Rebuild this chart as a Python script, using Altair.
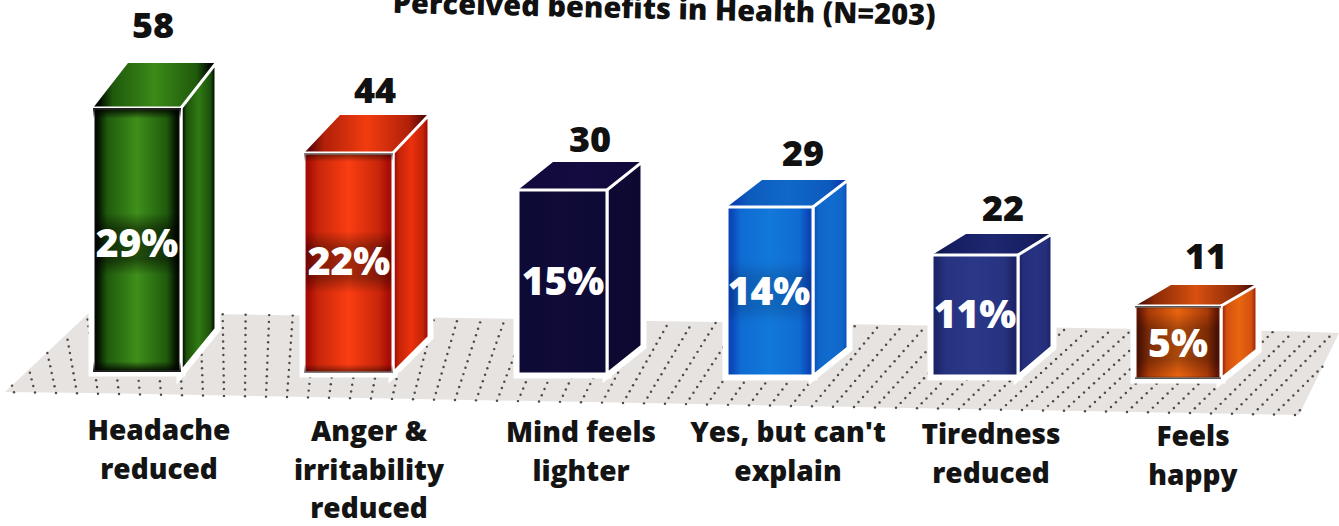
import altair as alt
import numpy as np
import pandas as pd

# Survey results
TITLE = "Perceived benefits in Health (N=203)"
CATEGORIES = ["Headache reduced", "Anger & irritability reduced", "Mind feels lighter",
              "Yes, but can't explain", "Tiredness reduced", "Feels happy"]
CATEGORY_LINES = [["Headache", "reduced"], ["Anger &", "irritability", "reduced"],
                  ["Mind feels", "lighter"], ["Yes, but can't", "explain"],
                  ["Tiredness", "reduced"], ["Feels", "happy"]]
COUNTS = [58, 44, 30, 29, 22, 11]
PERCENTS = [29, 22, 15, 14, 11, 5]

# Scales: the column height is pictorial, so the count axis is piecewise
COUNT_DOMAIN = [-35, 0, 11, 22, 29, 30, 44, 58, 82]
COUNT_RANGE = [526, 372.5, 306, 255, 207, 190, 153, 108, 0]
SLOT_DOMAIN = [-1, 0, 1, 2, 3, 4, 5, 6]
SLOT_RANGE = [-118, 93, 304, 518, 727, 932, 1135, 1339]
X_SCALE = alt.Scale(domain=SLOT_DOMAIN, range=SLOT_RANGE, nice=False, zero=False)
Y_SCALE = alt.Scale(domain=COUNT_DOMAIN, range=COUNT_RANGE, nice=False, zero=False)


def sx(px):
    return float(np.interp(px, SLOT_RANGE, SLOT_DOMAIN))


def cy(py):
    return float(np.interp(py, COUNT_RANGE[::-1], COUNT_DOMAIN[::-1]))


def top_of(count):
    return float(np.interp(count, COUNT_DOMAIN, COUNT_RANGE))


# Layout of the pseudo-3D columns
FACE_WIDTH = [88, 89, 89, 86, 86, 86]
BASE_LINE = [372, 373, 374, 376, 376, 379]
DEPTH_X = [35, 36, 35, 35, 34, 36]
DEPTH_TOP = [45, 38, 28, 27, 21, 21]
DEPTH_BASE = [43, 36, 28, 28, 29, 29]
COUNT_LABEL = [(153, 27), (375, 92), (590, 141), (803, 155), (1003, 210), (1206, 258)]
PERCENT_LABEL = [(137, 245), (349, 263), (563, 283), (769, 293), (975, 316), (1178, 345)]
CATEGORY_X = [159, 369, 581, 788, 991, 1193]
CATEGORY_Y = [432, 433, 434, 434, 436, 438]
LINE_STEP = 38.5


def h_gradient(edge, mid, rim=None):
    rim = rim or edge
    return alt.LinearGradient(gradient="linear", x1=0, x2=1, y1=0, y2=0, stops=[
        alt.GradientStop(offset=0, color=rim), alt.GradientStop(offset=0.05, color=rim),
        alt.GradientStop(offset=0.16, color=edge), alt.GradientStop(offset=0.5, color=mid),
        alt.GradientStop(offset=0.84, color=edge), alt.GradientStop(offset=0.95, color=rim),
        alt.GradientStop(offset=1, color=rim)])


def v_shade(alpha_hex):
    shade = "#000000" + alpha_hex
    clear = "#00000000"
    return alt.LinearGradient(gradient="linear", x1=0, x2=0, y1=0, y2=1, stops=[
        alt.GradientStop(offset=0, color=shade), alt.GradientStop(offset=0.04, color=clear),
        alt.GradientStop(offset=0.96, color=clear), alt.GradientStop(offset=1, color=shade)])


def soft_band(alpha_hex):
    shade = "#000000" + alpha_hex
    clear = "#00000000"
    return alt.LinearGradient(gradient="linear", x1=0, x2=0, y1=0, y2=1, stops=[
        alt.GradientStop(offset=0, color=clear), alt.GradientStop(offset=0.25, color=shade),
        alt.GradientStop(offset=0.75, color=shade), alt.GradientStop(offset=1, color=clear)])


FRONT_FILL = [h_gradient("#1f5a0c", "#3f8f1a", "#040e02"), h_gradient("#c8260a", "#fb3d12", "#a80c06"),
              h_gradient("#0e0a36", "#100b38"), h_gradient("#0f6bd2", "#1278da", "#0b46b8"),
              h_gradient("#27337f", "#2b3888", "#1b2468"), h_gradient("#a83a08", "#e8640f", "#641804")]
SIDE_FILL = [h_gradient("#1c520b", "#2f7a12", "#040e02"), h_gradient("#c22408", "#ec300c", "#a00a08"),
             h_gradient("#0c0830", "#0e0a34"), h_gradient("#1066c8", "#116ccf", "#0c50bc"),
             h_gradient("#242e7a", "#273282", "#1a2268"), h_gradient("#d45010", "#e8660f", "#a02808")]
TOP_FILL = [h_gradient("#1f5a0c", "#3c8a18", "#020802"), h_gradient("#b02008", "#f23c10", "#600808"),
            h_gradient("#120a3c", "#140c40"), h_gradient("#0c5abc", "#1068c8", "#0a3cb0"),
            h_gradient("#161e62", "#1e2870", "#10174e"), h_gradient("#8a2a06", "#d85010", "#501004")]
SHADE_ALPHA = ["ee", "88", None, None, None, "cc"]
LABEL_BACKDROP = ["77", "55", None, "22", None, "44"]

# Floor and its fan of dotted lines
FLOOR_X = [5, 90, 1299, 1339]
FLOOR_TOP = [392, 312, 331.5, 333]
FLOOR_BOTTOM = [392, 393, 415, 333]
FAN_BOTTOM_X = [14, 92, 240, 460, 657, 1019, 1256, 1400]
FAN_TOP_X = [-10, 80, 240, 487, 707, 1109, 1336, 1500]
FAN_SPACING = 21
DOT_STEP = 6.8

FONT = "Open Sans"

X_ENC = alt.X("x:Q", scale=X_SCALE, axis=None)
Y_ENC = alt.Y("y:Q", scale=Y_SCALE, axis=None)
Y2_ENC = alt.Y2("y2:Q")


def floor_edge_top(px):
    return np.interp(px, [90, 1339], [312, 333])


def floor_edge_bottom(px):
    return np.interp(px, [5, 1299], [392, 415])


def floor_layer():
    frame = pd.DataFrame({"x": [sx(v) for v in FLOOR_X], "y": [cy(v) for v in FLOOR_TOP],
                          "y2": [cy(v) for v in FLOOR_BOTTOM]})
    return alt.Chart(frame).mark_area(color="#e7e3e1", opacity=1).encode(X_ENC, Y_ENC, Y2_ENC)


def floor_dots():
    rows = []
    for base in np.arange(14, 1300, FAN_SPACING):
        tip = np.interp(base, FAN_BOTTOM_X, FAN_TOP_X)
        y_base, y_tip = floor_edge_bottom(base), floor_edge_top(tip)
        length = float(np.hypot(tip - base, y_base - y_tip))
        for t in np.arange(0, 1.0, DOT_STEP / length):
            px, py = base + (tip - base) * t, y_base + (y_tip - y_base) * t
            if py > np.interp(px, [5, 90], [392, 312]) and not (px > 1299 and py > np.interp(px, [1299, 1339], [415, 333])):
                rows.append({"x": sx(px), "y": cy(py)})
    return alt.Chart(pd.DataFrame(rows)).mark_circle(size=6, color="#3a3a3a", opacity=0.9).encode(X_ENC, Y_ENC)


def column_layers(i):
    left, right = SLOT_RANGE[i + 1], SLOT_RANGE[i + 1] + FACE_WIDTH[i]
    top, base = top_of(COUNTS[i]), BASE_LINE[i]
    back_l, back_r = left + DEPTH_X[i], right + DEPTH_X[i]
    back_top = top - DEPTH_TOP[i]
    slot = pd.DataFrame({"x": [sx(left)], "x2": [sx(right)], "y": [COUNTS[i]], "y2": [cy(base)]})
    side = pd.DataFrame({"x": [sx(right), sx(back_r)], "y": [COUNTS[i], cy(back_top)],
                         "y2": [cy(base), cy(base - DEPTH_BASE[i])]})
    lid = pd.DataFrame({"x": [sx(left), sx(back_l), sx(right), sx(back_r)],
                        "y": [COUNTS[i], cy(back_top), cy(back_top), cy(back_top)],
                        "y2": [COUNTS[i], COUNTS[i], COUNTS[i], cy(back_top)]})
    x2 = alt.X2("x2:Q")
    layers = [
        alt.Chart(side).mark_area(fill="white", stroke="white", strokeWidth=9).encode(X_ENC, Y_ENC, Y2_ENC),
        alt.Chart(slot).mark_rect(fill="white", stroke="white", strokeWidth=9).encode(X_ENC, x2, Y_ENC, Y2_ENC),
        alt.Chart(lid).mark_area(fill=TOP_FILL[i]).encode(X_ENC, Y_ENC, Y2_ENC),
        alt.Chart(side).mark_area(fill=SIDE_FILL[i], stroke="white", strokeWidth=3).encode(X_ENC, Y_ENC, Y2_ENC),
        alt.Chart(slot).mark_rect(fill=FRONT_FILL[i], stroke="white", strokeWidth=3).encode(X_ENC, x2, Y_ENC, Y2_ENC),
    ]
    if SHADE_ALPHA[i]:
        layers.append(alt.Chart(slot).mark_rect(fill=v_shade(SHADE_ALPHA[i])).encode(X_ENC, x2, Y_ENC, Y2_ENC))
    if LABEL_BACKDROP[i]:
        py = PERCENT_LABEL[i][1]
        band = pd.DataFrame({"x": [sx(left + 2)], "x2": [sx(right - 2)], "y": [cy(py - 32)], "y2": [cy(py + 30)]})
        layers.append(alt.Chart(band).mark_rect(fill=soft_band(LABEL_BACKDROP[i])).encode(X_ENC, x2, Y_ENC, Y2_ENC))
    return layers


def text_layer(rows, **mark):
    return alt.Chart(pd.DataFrame(rows)).mark_text(
        font=FONT, fontWeight=800, align="center", baseline="middle", **mark
    ).encode(X_ENC, Y_ENC, text="label:N")


count_rows = [{"x": sx(px), "y": cy(py), "label": str(c)} for (px, py), c in zip(COUNT_LABEL, COUNTS)]
percent_rows = [{"x": sx(px), "y": cy(py), "label": f"{p}%"} for (px, py), p in zip(PERCENT_LABEL, PERCENTS)]
category_rows = [{"x": sx(px), "y": cy(py + n * LINE_STEP), "label": line}
                 for px, py, lines in zip(CATEGORY_X, CATEGORY_Y, CATEGORY_LINES)
                 for n, line in enumerate(lines)]

title_layer = alt.Chart(pd.DataFrame([{"x": sx(664), "y": cy(19), "label": TITLE}])).mark_text(
    font=FONT, fontWeight=800, fontSize=29, color="#111111", align="center",
    baseline="alphabetic", angle=1.3
).encode(X_ENC, Y_ENC, text="label:N")

layers = [floor_layer(), floor_dots()]
for i in range(len(COUNTS)):
    layers += column_layers(i)
layers += [
    text_layer(count_rows, fontSize=36, color="#111111"),
    text_layer(percent_rows, fontSize=39, color="white"),
    text_layer(category_rows, fontSize=28, color="#141414"),
    title_layer,
]

chart = alt.layer(*layers).properties(
    width=1339, height=526, padding=0, autosize="none", background="white"
).configure_view(stroke=None)

chart.save("out.html", embed_options={"renderer": "svg", "actions": False})
